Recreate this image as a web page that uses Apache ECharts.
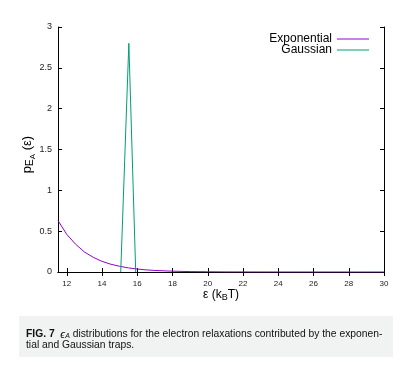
<!DOCTYPE html>
<html>
<head>
<meta charset="utf-8">
<script src="https://cdn.jsdelivr.net/npm/echarts@6/dist/echarts.min.js"></script>
<style>
  html, body { margin: 0; padding: 0; background: #fff; }
  #main { width: 403px; height: 376px; }
</style>
</head>
<body>
<div id="main"></div>
<script>
// energies (kBT) and values
const expX = [11.5, 12, 12.5, 13, 13.5, 14, 14.5, 15, 15.5, 16, 16.5, 17, 18, 19, 20, 21, 22, 24, 26, 30];
const expY = [0.63, 0.46, 0.34, 0.245, 0.18, 0.13, 0.095, 0.07, 0.05, 0.036, 0.026, 0.019, 0.01, 0.005, 0.003, 0.0015, 0.0008, 0.0002, 0.0001, 0];
const gauX = [15.06, 15.52, 15.91];
const gauY = [0, 2.8, 0];
const xTicks = [12, 14, 16, 18, 20, 22, 24, 26, 28, 30];
const seriesNames = ['Exponential', 'Gaussian'];
const colors = ['#9400d3', '#009e73'];

const font = 'Liberation Sans, Arial, sans-serif';
const pairs = (xs, ys) => xs.map((x, i) => [x, ys[i]]);

const chart = echarts.init(document.getElementById('main'));

const xCommon = {
  type: 'value', min: 11.5, max: 30,
  axisLine: { show: true, lineStyle: { color: '#000', width: 1 } },
  axisTick: { show: true, inside: true, length: 4, customValues: xTicks, lineStyle: { color: '#000' } },
  splitLine: { show: false }
};
const yCommon = {
  type: 'value', min: 0, max: 3, interval: 0.5,
  axisLine: { show: true, lineStyle: { color: '#000', width: 1 } },
  axisTick: { show: true, inside: true, length: 4, lineStyle: { color: '#000' } },
  splitLine: { show: false }
};

chart.setOption({
  animation: false,
  backgroundColor: '#fff',
  textStyle: { fontFamily: font },
  grid: { left: 58, right: 19, top: 27, bottom: 104 },
  legend: {
    data: seriesNames,
    orient: 'vertical', align: 'right',
    right: 34, top: 33, padding: 0,
    itemWidth: 32, itemHeight: 1, itemGap: -1,
    icon: 'rect',
    textStyle: { fontSize: 12, color: '#000', fontFamily: font }
  },
  xAxis: [
    Object.assign({}, xCommon, {
      position: 'bottom',
      axisLabel: { customValues: xTicks, fontSize: 8, color: '#222', margin: 8 },
      name: '{a|ε (k}{s|B}{a|T)}', nameLocation: 'middle', nameGap: 15, nameMoveOverlap: false,
      nameTextStyle: { rich: {
        a: { fontSize: 12, color: '#000', fontFamily: font },
        s: { fontSize: 9, color: '#000', fontFamily: font, padding: [6, 0, 0, 0] }
      } }
    }),
    Object.assign({}, xCommon, { position: 'top', axisLabel: { show: false } })
  ],
  yAxis: [
    Object.assign({}, yCommon, {
      position: 'left',
      axisLabel: { fontSize: 9, color: '#222', margin: 6 },
      name: '{a|p}{s|E}{t|A}{a| (ε)}', nameLocation: 'middle', nameGap: 21, nameRotate: 90,
      nameMoveOverlap: false,
      nameTextStyle: {
        padding: [0, 10, 0, 0],
        rich: {
          a: { fontSize: 13, color: '#000', fontFamily: font },
          s: { fontSize: 10, color: '#000', fontFamily: font, padding: [6, 0, 0, 0] },
          t: { fontSize: 8, color: '#000', fontFamily: font, padding: [11, 0, 0, 0] }
        }
      }
    }),
    Object.assign({}, yCommon, { position: 'right', axisLabel: { show: false } })
  ],
  series: [
    {
      name: seriesNames[0], type: 'line', data: pairs(expX, expY),
      showSymbol: false, smooth: false, color: colors[0],
      lineStyle: { width: 1, color: colors[0] }
    },
    {
      name: seriesNames[1], type: 'line', data: pairs(gauX, gauY),
      showSymbol: false, color: colors[1],
      lineStyle: { width: 1, color: colors[1] }
    }
  ],
  graphic: [
    {
      type: 'rect', left: 19, top: 316,
      shape: { width: 374, height: 41 },
      style: { fill: '#f1f2f2' }, silent: true
    },
    {
      type: 'text', left: 26, top: 329,
      style: {
        text: '{b|FIG. 7}  {i|ϵ}{s|A} distributions for the electron relaxations contributed by the exponen-\ntial and Gaussian traps.',
        font: '10.3px ' + font, fill: '#111', lineHeight: 11,
        rich: {
          b: { fontWeight: 'bold', fontSize: 10.3, fontFamily: font, fill: '#111' },
          i: { fontStyle: 'italic', fontSize: 11, fontFamily: font, fill: '#111' },
          s: { fontStyle: 'italic', fontSize: 7, fontFamily: font, fill: '#111', padding: [4, 0, 0, 0] }
        }
      }
    }
  ]
});
</script>
</body>
</html>
